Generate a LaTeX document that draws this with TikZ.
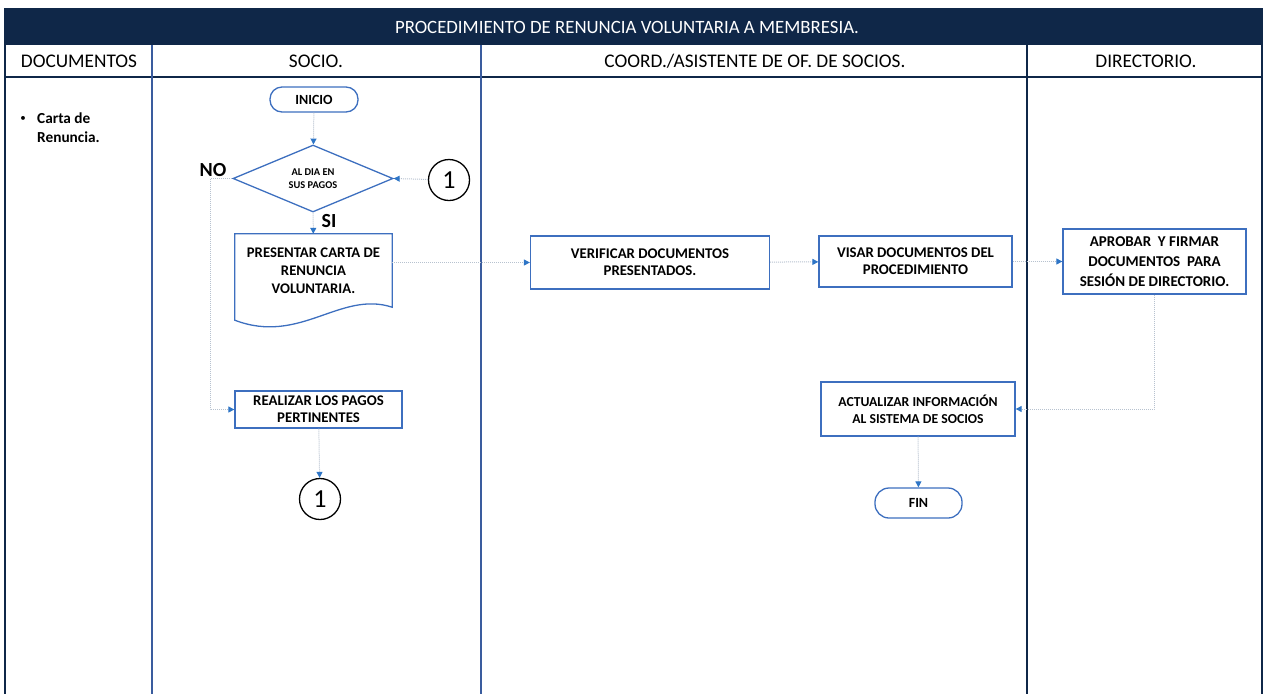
\documentclass[tikz,border=0pt]{standalone}
\usepackage{fontspec}
\setmainfont{Carlito}
\usetikzlibrary{shapes.geometric,arrows.meta}
\definecolor{navy}{HTML}{0F2748}
\definecolor{laneblue}{HTML}{3A5C9E}
\definecolor{boxblue}{HTML}{3D6FBF}
\definecolor{tipblue}{HTML}{2E75C6}
\definecolor{linkgray}{HTML}{B7C2CF}

\begin{document}
\begin{tikzpicture}[x=1pt,y=-1pt,
  proc/.style={draw=boxblue,line width=1.3pt,fill=white,align=center,inner sep=0pt,
    font=\fontsize{14.8}{17}\selectfont\bfseries},
  term/.style={proc,rounded corners=12pt},
  conn/.style={draw,circle,line width=1.3pt,minimum size=41pt,inner sep=0pt,
    font=\fontsize{26}{26}\selectfont},
  link/.style={linkgray,line width=1pt,densely dotted,
    -{Triangle[length=6pt,width=6pt,color=tipblue]}},
  lane/.style={font=\fontsize{19.3}{20}\selectfont}]
  \useasboundingbox (0,0) rectangle (1265,694);

  % lanes
  \fill[navy] (5,8) rectangle (1262,45);
  \draw[navy,line width=1.5pt] (5,8) -- (5,694) (1262,8) -- (1262,694);
  \draw[navy,line width=1.2pt] (5,77) -- (1262,77);
  \foreach \x in {152,481}
    \draw[laneblue,line width=1.3pt] (\x,45) -- (\x,694);
  \draw[navy,line width=1.3pt] (1027,45) -- (1027,694);

  \node[white,font=\fontsize{18.8}{20}\selectfont] (title) at (627,27)
    {PROCEDIMIENTO DE RENUNCIA VOLUNTARIA A MEMBRESIA.};
  \node[lane] (hdoc) at (79,61) {DOCUMENTOS};
  \node[lane] (hsocio) at (316,61) {SOCIO.};
  \node[lane] (hcoord) at (755,61) {COORD./ASISTENTE DE OF. DE SOCIOS.};
  \node[lane] (hdir) at (1146,61) {DIRECTORIO.};

  \node[inner sep=0pt,font=\fontsize{11}{11}\selectfont] (bul) at (23,119) {\textbullet};
  \node[anchor=north west,align=left,inner sep=0pt,font=\fontsize{15.3}{19}\selectfont\bfseries]
    (carta) at (37,113) {Carta de\\Renuncia.};

  % socio
  \node[term,minimum width=88pt,minimum height=25pt,font=\fontsize{14}{14}\selectfont\bfseries]
    (inicio) at (314,99.5) {INICIO};
  \node[diamond,draw=boxblue,line width=1.3pt,aspect=2.4,minimum width=160pt,minimum height=67pt,
    inner sep=0pt,align=center,font=\fontsize{10.4}{13}\selectfont\bfseries]
    (dia) at (313,178.5) {AL DIA EN\\SUS PAGOS};
  \node[conn] (c1a) at (449,180) {1};
  \node[font=\fontsize{20}{20}\selectfont\bfseries] (no) at (213,170) {NO};
  \node[font=\fontsize{20}{20}\selectfont\bfseries] (si) at (329,221) {SI};

  \node[align=center,inner sep=0pt,minimum width=157pt,minimum height=73pt,
    font=\fontsize{14.7}{18}\selectfont\bfseries] (pres) at (313.5,270.5)
    {PRESENTAR CARTA DE\\RENUNCIA\\VOLUNTARIA.};
  \draw[boxblue,line width=1.3pt] (pres.north west) -- (pres.north east) -- (pres.south east)
    .. controls ([shift={(-52,-17)}]pres.south east) and ([shift={(-92,38)}]pres.south east)
    .. ([shift={(0,13)}]pres.south west) -- cycle;

  \node[proc,minimum width=167pt,minimum height=37pt] (pagos) at (318.5,409.5)
    {REALIZAR LOS PAGOS\\PERTINENTES};
  \node[conn] (c1b) at (320,499) {1};

  % coordinacion
  \node[proc,minimum width=239pt,minimum height=53pt] (verif) at (650,262.5)
    {VERIFICAR DOCUMENTOS\\PRESENTADOS.};
  \node[proc,minimum width=193pt,minimum height=51pt] (visar) at (915.5,261.5)
    {VISAR DOCUMENTOS DEL\\PROCEDIMIENTO};
  \node[proc,minimum width=194pt,minimum height=54pt,font=\fontsize{13.7}{17}\selectfont\bfseries]
    (actual) at (918,409) {ACTUALIZAR INFORMACIÓN\\AL SISTEMA DE SOCIOS};
  \node[term,minimum width=87pt,minimum height=30pt,rounded corners=14pt,
    font=\fontsize{14}{14}\selectfont\bfseries] (fin) at (918.5,503) {FIN};

  % directorio
  \node[proc,minimum width=183pt,minimum height=65pt,font=\fontsize{15}{20}\selectfont\bfseries]
    (aprob) at (1154.5,261.5) {APROBAR \ Y FIRMAR\\DOCUMENTOS \ PARA\\SESIÓN DE DIRECTORIO.};

  % flujo
  \draw[link] (inicio) -- (dia);
  \draw[link] (c1a) -- (dia.east);
  \draw[link] (dia) -- (pres);
  \draw[link] (dia.west) -- ++(-22,0) |- (pagos.west);
  \draw[link] (pagos) -- (c1b);
  \draw[link] (pres.east |- verif.west) -- (verif.west);
  \draw[link] (verif) -- (visar);
  \draw[link] (visar) -- (aprob);
  \draw[link] (aprob) |- (actual);
  \draw[link] (actual) -- (fin);
\end{tikzpicture}
\end{document}
